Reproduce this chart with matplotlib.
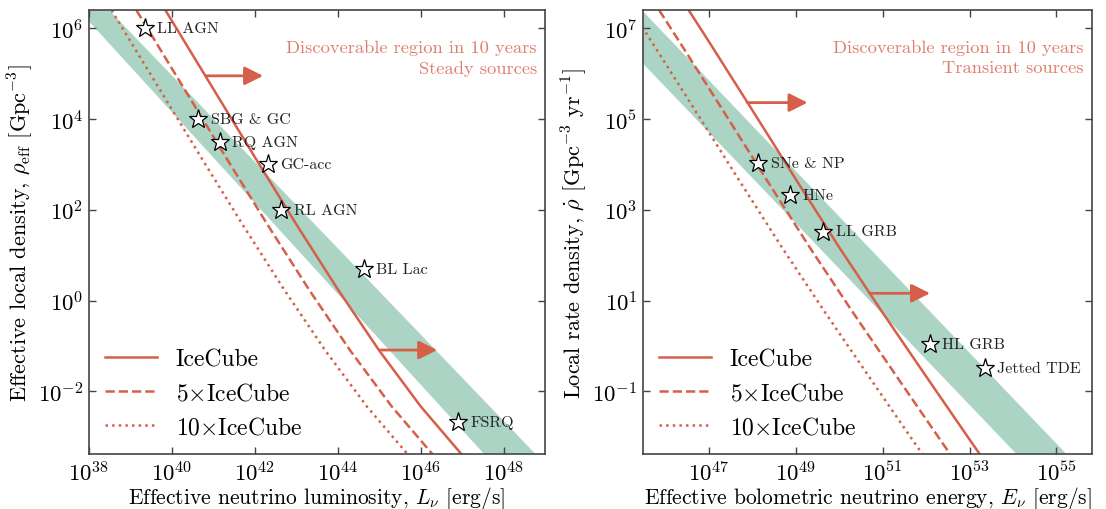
import matplotlib
matplotlib.use('Agg')
import matplotlib.pyplot as plt
import numpy as np

plt.rcParams['font.family'] = 'serif'
plt.rcParams['font.serif'] = ['cmr10', 'DejaVu Serif']
plt.rcParams['mathtext.fontset'] = 'cm'
plt.rcParams['axes.unicode_minus'] = False
plt.rcParams['axes.formatter.use_mathtext'] = True

RED = '#d65f49'
TXT = '#e07d6c'
BAND = '#abd4c5'
SPINE = '#444444'

# ---- steady sources (left) : log10 values ----
steady_band_logL = [37.0, 50.0]
steady_band_lo = [7.15, -5.85]
steady_band_hi = [7.81, -4.55]

steady_ic_logL = [39.5, 40.0, 41.0, 42.0, 43.0, 44.0, 45.0, 46.0, 47.0, 47.5]
steady_ic_logrho = [6.91, 6.16, 4.66, 3.16, 1.68, 0.25, -1.10, -2.33, -3.40, -3.92]
steady_ic5_logL = [38.8, 39.3, 40.3, 41.3, 42.3, 43.3, 44.3, 45.3, 46.3, 46.8]
steady_ic5_logrho = [6.91, 6.16, 4.66, 3.16, 1.68, 0.25, -1.10, -2.33, -3.40, -3.92]
steady_ic10_logL = [38.2, 38.7, 39.7, 40.7, 41.7, 42.7, 43.7, 44.7, 45.7, 46.2]
steady_ic10_logrho = [6.91, 6.16, 4.66, 3.16, 1.68, 0.25, -1.10, -2.33, -3.40, -3.92]

steady_names = ['LL AGN', 'SBG & GC', 'RQ AGN', 'GC-acc', 'RL AGN', 'BL Lac', 'FSRQ']
steady_logL = [39.34, 40.64, 41.15, 42.32, 42.64, 44.63, 46.90]
steady_logrho = [6.0, 4.0, 3.5, 3.0, 2.0, 0.7, -2.67]

steady_arrows = [(40.82, 42.20, 4.95), (45.01, 46.40, -1.09)]
steady_ticks = [38, 40, 42, 44, 46, 48]
steady_yticks = [-2, 0, 2, 4, 6]

# ---- transient sources (right) ----
trans_band_logE = [45.0, 57.0]
trans_band_lo = [6.70, -5.30]
trans_band_hi = [7.85, -4.15]

trans_ic_logE = [46.3, 46.53, 47.0, 48.0, 49.0, 50.0, 51.0, 52.0, 53.0, 53.5]
trans_ic_logrho = [7.75, 7.40, 6.70, 5.19, 3.67, 2.17, 0.73, -0.67, -2.06, -2.75]
trans_ic5_logE = [45.62, 45.85, 46.32, 47.32, 48.32, 49.32, 50.32, 51.32, 52.32, 52.82]
trans_ic5_logrho = [7.75, 7.40, 6.70, 5.19, 3.67, 2.17, 0.73, -0.67, -2.06, -2.75]
trans_ic10_logE = [44.98, 45.21, 45.68, 46.68, 47.68, 48.68, 49.68, 50.68, 51.68, 52.18]
trans_ic10_logrho = [7.75, 7.40, 6.70, 5.19, 3.67, 2.17, 0.73, -0.67, -2.06, -2.75]

trans_names = ['SNe & NP', 'HNe', 'LL GRB', 'HL GRB', 'Jetted TDE']
trans_logE = [48.13, 48.86, 49.63, 52.08, 53.35]
trans_logrho = [4.03, 3.33, 2.52, 0.05, -0.49]

trans_arrows = [(47.88, 49.27, 5.36), (50.70, 52.09, 1.16)]
trans_ticks = [47, 49, 51, 53, 55]
trans_yticks = [-1, 1, 3, 5, 7]


def p10(v):
    return 10.0 ** np.asarray(v, dtype=float)


def draw_panel(ax, band_x, band_lo, band_hi, ic, ic5, ic10, names, sx, sy,
               arrows, xticks, yticks, xlim, ylim, note, xlabel, ylabel):
    ax.set_xscale('log')
    ax.set_yscale('log')
    ax.fill_between(p10(band_x), p10(band_lo), p10(band_hi), color=BAND, lw=0, zorder=1)
    ax.plot(p10(ic[0]), p10(ic[1]), color=RED, lw=1.8, ls='-', label='IceCube', zorder=2)
    ax.plot(p10(ic5[0]), p10(ic5[1]), color=RED, lw=1.8, ls='--', label=r'5$\times$IceCube', zorder=2)
    ax.plot(p10(ic10[0]), p10(ic10[1]), color=RED, lw=1.8, ls=':', label=r'10$\times$IceCube', zorder=2)
    for x0, x1, y in arrows:
        ax.annotate('', xy=(10 ** x1, 10 ** y), xytext=(10 ** x0, 10 ** y),
                    arrowprops=dict(arrowstyle='-|>,head_length=0.4,head_width=0.2',
                                    color=RED, lw=2, mutation_scale=28,
                                    shrinkA=0, shrinkB=0), zorder=3)
    ax.plot(p10(sx), p10(sy), ls='none', marker='*', ms=14, mfc='white', mec='black',
            mew=0.9, zorder=4)
    for n, x, y in zip(names, sx, sy):
        ax.annotate(n, (10 ** x, 10 ** y), xytext=(9, 0), textcoords='offset points',
                    va='center', ha='left', fontsize=11.5, color='#222222', zorder=5)
    ax.text(0.982, 0.935, note, transform=ax.transAxes, ha='right', va='top',
            fontsize=13.3, color=TXT, linespacing=1.4)
    ax.set_xlim(10 ** xlim[0], 10 ** xlim[1])
    ax.set_ylim(10 ** ylim[0], 10 ** ylim[1])
    ax.set_xticks(p10(xticks))
    ax.set_yticks(p10(yticks))
    ax.minorticks_off()
    ax.tick_params(direction='in', top=True, right=True, length=5, width=1,
                   labelsize=16.5, pad=4, color=SPINE)
    for s in ax.spines.values():
        s.set_color(SPINE)
        s.set_linewidth(1.2)
    ax.set_xlabel(xlabel, fontsize=15.5, labelpad=0)
    ax.set_ylabel(ylabel, fontsize=16, labelpad=2)
    ax.legend(loc='lower left', bbox_to_anchor=(0.035, 0.035), frameon=False, fontsize=17,
              handlelength=2.2, handletextpad=0.8, labelspacing=0.5, borderpad=0,
              borderaxespad=0)


fig = plt.figure(figsize=(11.06, 5.10), dpi=100)
ax1 = fig.add_axes([89 / 1106, 55 / 510, 456 / 1106, 444 / 510])
ax2 = fig.add_axes([643 / 1106, 55 / 510, 449 / 1106, 444 / 510])

draw_panel(ax1, steady_band_logL, steady_band_lo, steady_band_hi,
           (steady_ic_logL, steady_ic_logrho), (steady_ic5_logL, steady_ic5_logrho),
           (steady_ic10_logL, steady_ic10_logrho),
           steady_names, steady_logL, steady_logrho, steady_arrows,
           steady_ticks, steady_yticks, (38.0, 49.0), (-3.38, 6.40),
           'Discoverable region in 10 years\nSteady sources',
           r'Effective neutrino luminosity, $L_\nu$ [erg/s]',
           r'Effective local density, $\rho_{\rm eff}$ [Gpc$^{-3}$]')

draw_panel(ax2, trans_band_logE, trans_band_lo, trans_band_hi,
           (trans_ic_logE, trans_ic_logrho), (trans_ic5_logE, trans_ic5_logrho),
           (trans_ic10_logE, trans_ic10_logrho),
           trans_names, trans_logE, trans_logrho, trans_arrows,
           trans_ticks, trans_yticks, (45.48, 55.82), (-2.38, 7.40),
           'Discoverable region in 10 years\nTransient sources',
           r'Effective bolometric neutrino energy, $E_\nu$ [erg/s]',
           r'Local rate density, $\dot{\rho}$ [Gpc$^{-3}$ yr$^{-1}$]')

fig.savefig('out.png', dpi=100)
